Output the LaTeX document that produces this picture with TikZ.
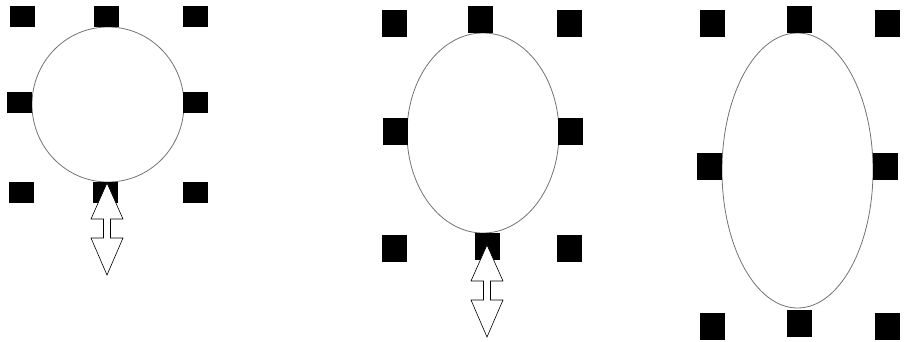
\documentclass[tikz,border=0pt]{standalone}
\usetikzlibrary{shapes.geometric, positioning}

\begin{document}
\begin{tikzpicture}[
    x=1pt, y=-1pt,
    hdl/.style={fill=black, inner sep=0pt, minimum width=25pt, minimum height=27pt},
    hdlw/.style={hdl, minimum height=21pt},
    shp/.style={draw=black!55, line width=0.8pt, ellipse, inner sep=0pt},
    rsz/.pic={
      \draw[fill=white, line width=0.6pt, line join=miter]
        (0,0) -- (16,36) -- (3.5,36) -- (3.5,55) -- (16,55) -- (0,92)
        -- (-16,55) -- (-3.5,55) -- (-3.5,36) -- (-16,36) -- cycle;
    }
]
\useasboundingbox (0,0) rectangle (906,341);

% circle
\node[shp, minimum width=152pt, minimum height=155pt] (E1) at (108,104.5) {};
\node[hdlw] (a1) at (22,16.5) {};
\node[hdlw] (a2) at (106,16.5) {};
\node[hdlw] (a3) at (195.5,16.5) {};
\node[hdlw] (a4) at (19.5,102.5) {};
\node[hdlw] (a5) at (195,102.5) {};
\node[hdlw] (a6) at (21.5,192.5) {};
\node[hdlw] (a7) at (105.5,192.5) {};
\node[hdlw] (a8) at (195.5,192.5) {};
\pic at (107,183) {rsz};

% ellipse, middle
\node[shp, minimum width=152pt, minimum height=200pt] (E2) at (483,133) {};
\node[hdl] (b1) at (394.5,23) {};
\node[hdl] (b2) at (480.5,19.5) {};
\node[hdl] (b3) at (569.5,23) {};
\node[hdl] (b4) at (395,131.5) {};
\node[hdl] (b5) at (570.5,131.5) {};
\node[hdl] (b6) at (394.5,248.5) {};
\node[hdl] (b7) at (487.5,246) {};
\node[hdl] (b8) at (569.5,248.5) {};
\pic at (487,245) {rsz};

% ellipse, tall
\node[shp, minimum width=151pt, minimum height=275pt] (E3) at (797.5,170.5) {};
\node[hdl] (c1) at (712,23) {};
\node[hdl] (c2) at (799.5,19.5) {};
\node[hdl] (c3) at (887.5,23) {};
\node[hdl] (c4) at (709.5,166.5) {};
\node[hdl] (c5) at (885.5,166.5) {};
\node[hdl] (c6) at (712,326.5) {};
\node[hdl] (c7) at (799.5,323.5) {};
\node[hdl] (c8) at (887.5,326.5) {};
\end{tikzpicture}
\end{document}
